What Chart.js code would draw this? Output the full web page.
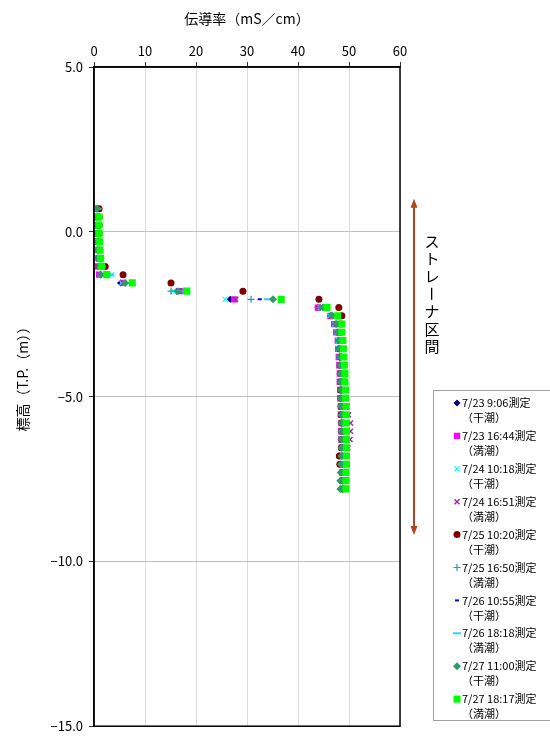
<!DOCTYPE html>
<html>
<head>
<meta charset="utf-8">
<script src="https://cdn.jsdelivr.net/npm/chart.js@4.4.0/dist/chart.umd.min.js"></script>
<style>
  body { margin: 0; background: #fff; }
</style>
</head>
<body>
<canvas id="myChart" width="550" height="740"></canvas>
<script>
// elevation of each measuring level (T.P. m)
var elevations = [0.70, 0.45, 0.20, -0.05, -0.30, -0.55, -0.80, -1.05, -1.30, -1.55,
    -1.80, -2.05, -2.30, -2.55, -2.80, -3.05, -3.30, -3.55, -3.80, -4.05,
    -4.30, -4.55, -4.80, -5.05, -5.30, -5.55, -5.80, -6.05, -6.30, -6.55,
    -6.80, -7.05, -7.30, -7.55, -7.80];

// conductivity (mS/cm) per level
var s0723a = [0.4,0.3,0.3,0.3,0.3,0.4,0.5, 0.8,1.2,5.2,16.2,26.7,43.9,46.4,47.3, 47.6,47.9,48.0,48.1,48.2, 48.3,48.3,48.4,48.4,48.5, 48.5,48.6,48.6,48.6,48.7, 48.7,48.7,48.8,48.8,48.8];
var s0723b = [0.2,0.2,0.2,0.2,0.2,0.2,0.3, 0.5,1.0,5.7,16.8,27.5,43.9,46.3,47.1, 47.5,47.8,47.9,48.0,48.1, 48.2,48.2,48.3,48.3,48.4, 48.4,48.5,48.5,48.5,48.6, 48.6,48.6,48.7,48.7,48.7];
var s0724a = [0.5,0.5,0.5,0.6,0.6,0.6,0.7, 1.3,3.5,5.4,15.6,25.7,44.3,46.2,47.2, 47.7,47.9,48.0,48.1,48.2, 48.3,48.4,48.4,48.5,48.5, 48.6,48.6,48.7,48.7,48.7, 48.8,48.8,48.8,48.9,48.9];
var s0724b = [0.3,0.2,0.2,0.3,0.3,0.3,0.4, 0.7,1.8,5.8,17.3,27.8,44.0,46.6,47.5, 47.9,48.2,48.3,48.4,48.5, 48.6,48.8,49.0,49.3,49.6, 49.9,50.3,50.3,50.2,49.8, 49.4,49.2,49.1,49.0,49.0];
var s0725a = [1.0,1.0,1.0,1.0,1.1,1.1,1.3, 2.2,5.7,15.1,29.2,44.1,48.0,48.6,48.4, 48.3,48.3,48.2,48.3,48.3, 48.4,48.4,48.4,48.5,48.5, 48.5,48.6,48.6,48.6,48.5, 48.1,48.2,48.6,48.7,48.8];
var s0725b = [0.6,0.6,0.6,0.6,0.7,0.7,0.8, 1.4,2.6,6.2,15.1,30.8,44.3,46.6,47.5, 47.9,48.1,48.2,48.3,48.3, 48.4,48.4,48.5,48.5,48.5, 48.6,48.6,48.6,48.7,48.7, 48.7,48.7,48.8,48.8,48.8];
var s0726a = [0.5,0.5,0.5,0.5,0.6,0.6,0.7, 1.2,2.2,6.4,16.6,32.5,44.5,46.8,47.6, 47.9,48.1,48.2,48.3,48.4, 48.4,48.5,48.5,48.6,48.6, 48.6,48.7,48.7,48.7,48.8, 48.8,48.8,48.9,48.9,48.9];
var s0726b = [0.7,0.7,0.7,0.7,0.8,0.8,0.9, 1.5,3.2,6.9,17.0,34.1,44.8,47.0,47.8, 48.1,48.3,48.4,48.5,48.6, 48.6,48.7,48.7,48.8,48.8, 48.8,48.9,48.9,48.9,49.0, 49.0,49.0,49.0,49.1,49.1];
var s0727a = [0.6,0.6,0.6,0.6,0.7,0.7,0.8, 1.2,1.3,6.1,16.5,35.1,44.9,46.7,47.6, 47.8,48.0,48.1,48.2,48.2, 48.3,48.3,48.4,48.4,48.4, 48.5,48.5,48.5,48.5,48.5, 48.5,48.4,48.4,48.3,48.3];
var s0727b = [null,1.0,1.0,1.0,1.1,1.2,1.3, 1.5,2.5,7.5,18.2,36.7,45.7,47.8,48.6, 48.6,48.8,48.9,49.0,49.1, 49.2,49.2,49.3,49.3,49.4, 49.4,49.4,49.5,49.5,49.5, 49.5,49.5,49.4,49.4,49.4];

var seriesNames = ['7/23 9:06測定', '7/23 16:44測定', '7/24 10:18測定', '7/24 16:51測定', '7/25 10:20測定',
    '7/25 16:50測定', '7/26 10:55測定', '7/26 18:18測定', '7/27 11:00測定', '7/27 18:17測定'];
var tideNames = ['（干潮）', '（満潮）', '（干潮）', '（満潮）', '（干潮）',
    '（満潮）', '（干潮）', '（満潮）', '（干潮）', '（満潮）'];
var seriesValues = [s0723a, s0723b, s0724a, s0724b, s0725a, s0725b, s0726a, s0726b, s0727a, s0727b];

// strainer section (T.P. m)
var strainerTop = 1.0;
var strainerBottom = -9.2;
var strainerText = 'ストレーナ区間';

var markers = [
    { color: '#000080', style: 'rectRot', radius: 3.5, border: 0 },
    { color: '#ff00ff', style: 'rect', radius: 4.5, border: 0 },
    { color: '#00ffff', style: 'crossRot', radius: 3.5, border: 1.2 },
    { color: '#993399', style: 'crossRot', radius: 3.5, border: 1.5 },
    { color: '#800000', style: 'circle', radius: 3.5, border: 0 },
    { color: '#339999', style: 'cross', radius: 3.5, border: 1.2 },
    { color: '#0000ff', style: 'line', radius: 2, border: 2 },
    { color: '#33ccff', style: 'line', radius: 4, border: 2 },
    { color: '#339966', style: 'rectRot', radius: 4, border: 0 },
    { color: '#00ff00', style: 'rect', radius: 5, border: 0 }
];

function toPoints(values) {
    var pts = [];
    for (var i = 0; i < values.length; i++) {
        if (values[i] !== null) pts.push({ x: values[i], y: elevations[i] });
    }
    return pts;
}

var datasets = [];
for (var k = 0; k < seriesValues.length; k++) {
    datasets.push({
        label: seriesNames[k] + tideNames[k],
        data: toPoints(seriesValues[k]),
        pointStyle: markers[k].style,
        pointRadius: markers[k].radius,
        pointBorderWidth: markers[k].border,
        pointBackgroundColor: markers[k].color,
        pointBorderColor: markers[k].color,
        showLine: false,
        order: seriesValues.length - k
    });
}

var font = '"Noto Sans CJK JP", sans-serif';
Chart.defaults.font.family = font;
Chart.defaults.color = '#000';

function drawMarker(ctx, m, x, y) {
    ctx.fillStyle = m.color;
    ctx.strokeStyle = m.color;
    ctx.lineWidth = m.border;
    Chart.helpers.drawPoint(ctx, { pointStyle: m.style, radius: m.radius, borderWidth: m.border, rotation: 0 }, x, y);
}

var extras = {
    id: 'extras',
    afterDatasetsDraw: function(chart) {
        var ctx = chart.ctx, a = chart.chartArea, ys = chart.scales.y;
        ctx.save();
        // plot frame
        ctx.strokeStyle = '#000';
        ctx.lineWidth = 1.5;
        ctx.strokeRect(a.left, a.top, a.right - a.left, a.bottom - a.top);

        // strainer arrow
        var ax = a.right + 14;
        var y1 = ys.getPixelForValue(strainerTop);
        var y2 = ys.getPixelForValue(strainerBottom);
        ctx.strokeStyle = '#b0461e';
        ctx.fillStyle = '#b0461e';
        ctx.lineWidth = 2;
        ctx.beginPath();
        ctx.moveTo(ax, y1 + 6);
        ctx.lineTo(ax, y2 - 6);
        ctx.stroke();
        ctx.beginPath();
        ctx.moveTo(ax, y1); ctx.lineTo(ax - 3.5, y1 + 9); ctx.lineTo(ax + 3.5, y1 + 9);
        ctx.closePath(); ctx.fill();
        ctx.beginPath();
        ctx.moveTo(ax, y2); ctx.lineTo(ax - 3.5, y2 - 9); ctx.lineTo(ax + 3.5, y2 - 9);
        ctx.closePath(); ctx.fill();

        // vertical text
        ctx.fillStyle = '#000';
        ctx.font = '15px ' + font;
        ctx.textAlign = 'center';
        ctx.textBaseline = 'middle';
        var tx = ax + 18, ty = 241;
        for (var i = 0; i < strainerText.length; i++) {
            var ch = strainerText[i];
            var cy = ty + i * 17.6;
            if (ch === 'ー') {
                ctx.save();
                ctx.translate(tx, cy);
                ctx.rotate(Math.PI / 2);
                ctx.fillText(ch, 0, 0);
                ctx.restore();
            } else {
                ctx.fillText(ch, tx, cy);
            }
        }

        // legend
        var lx = a.right + 33, ly = 390;
        ctx.strokeStyle = '#a0a0a0';
        ctx.lineWidth = 1;
        ctx.strokeRect(lx + 0.5, ly + 0.5, 200, 330);
        ctx.font = '11px ' + font;
        ctx.textAlign = 'left';
        for (var k = 0; k < seriesNames.length; k++) {
            var ey = ly + 13 + k * 32.9;
            drawMarker(ctx, markers[k], lx + 24, ey);
            ctx.fillStyle = '#000';
            ctx.fillText(seriesNames[k], lx + 29, ey);
            ctx.fillText(tideNames[k], lx + 29, ey + 15);
        }
        ctx.restore();
    }
};

new Chart('myChart', {
    type: 'scatter',
    data: { datasets: datasets },
    plugins: [extras],
    options: {
        responsive: false,
        animation: false,
        devicePixelRatio: 1,
        layout: { padding: { left: 0, right: 150, top: 0, bottom: 12 } },
        plugins: {
            legend: { display: false },
            tooltip: { enabled: false }
        },
        scales: {
            x: {
                type: 'linear',
                position: 'top',
                min: 0,
                max: 60,
                ticks: { stepSize: 10, padding: 3, font: { size: 13 } },
                grid: { color: '#dcdcdc', tickColor: '#333', tickLength: 5 },
                border: { color: '#000', width: 1.5 },
                title: { display: true, text: '伝導率（mS／cm）', font: { size: 14 }, padding: { top: 10, bottom: 0 } },
                afterFit: function(scale) { scale.height = 67; }
            },
            y: {
                type: 'linear',
                min: -15,
                max: 5,
                ticks: {
                    stepSize: 5,
                    padding: 6,
                    font: { size: 13 },
                    callback: function(v) { return v.toFixed(1).replace('-', '−'); }
                },
                grid: { color: '#c0c0c0', tickColor: '#333', tickLength: 5 },
                border: { color: '#000', width: 1.5 },
                title: { display: true, text: '　　　標高（T.P.（m））', font: { size: 14 }, padding: { top: 14, bottom: 0 } },
                afterFit: function(scale) { scale.width = 94; }
            }
        }
    }
});
</script>
</body>
</html>
